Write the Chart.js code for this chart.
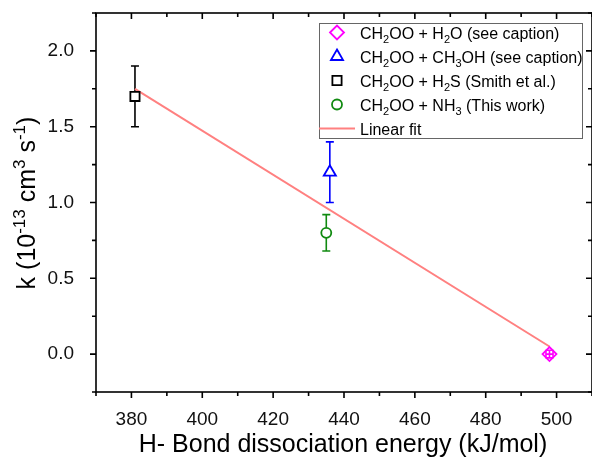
<!DOCTYPE html>
<html>
<head>
<meta charset="utf-8">
<script src="https://cdn.jsdelivr.net/npm/chart.js@4.4.0/dist/chart.umd.min.js"></script>
<style>
  html, body { margin: 0; padding: 0; background: #fff; }
</style>
</head>
<body>
<canvas id="kChart" width="592" height="457"></canvas>
<script>
// data
const seriesNames = ['CH_2OO + H_2O (see caption)', 'CH_2OO + CH_3OH (see caption)', 'CH_2OO + H_2S (Smith et al.)', 'CH_2OO + NH_3 (This work)'];
const bondEnergy = [498, 436, 381, 435];      // kJ/mol
const rateK = [0.0, 1.2, 1.7, 0.8];           // 1e-13 cm3 s-1
const rateErr = [0.025, 0.2, 0.2, 0.12];
const energyErr = [1, 0, 0, 0];
const fitName = 'Linear fit';
const fitX = [381, 498];
const fitY = [1.75, 0.05];
const xTicks = [380, 400, 420, 440, 460, 480, 500];
const xMinorTicks = [370, 390, 410, 430, 450, 470, 490, 510];
const yTicks = [0.0, 0.5, 1.0, 1.5, 2.0];
const yMinorTicks = [-0.25, 0.25, 0.75, 1.25, 1.75, 2.25];

const FONT = '"Liberation Sans", Arial, sans-serif';
const markerColors = ['#ff00ff', '#0000ff', '#000000', '#108a10'];
const markerStyles = ['rectRot', 'triangle', 'rect', 'circle'];
const markerRadius = [7, 7, 6.5, 5];

// split "CH_2OO" / "10^{-13}" into normal, sub and sup pieces
function richParts(str) {
    const parts = [];
    let buf = '', i = 0;
    while (i < str.length) {
        const c = str[i];
        if (c === '_' || c === '^') {
            if (buf) { parts.push({ t: buf, k: 0 }); buf = ''; }
            let t;
            if (str[i + 1] === '{') {
                const j = str.indexOf('}', i);
                t = str.slice(i + 2, j);
                i = j + 1;
            } else {
                t = str[i + 1];
                i += 2;
            }
            parts.push({ t: t, k: c === '_' ? -1 : 1 });
        } else {
            buf += c;
            i++;
        }
    }
    if (buf) parts.push({ t: buf, k: 0 });
    return parts;
}

function drawRich(ctx, str, x, y, size, align, color) {
    const parts = richParts(str);
    const small = Math.round(size * 0.66);
    let w = 0;
    parts.forEach(p => {
        ctx.font = (p.k ? small : size) + 'px ' + FONT;
        p.w = ctx.measureText(p.t).width;
        w += p.w;
    });
    let cx = align === 'center' ? x - w / 2 : x;
    ctx.textAlign = 'left';
    ctx.textBaseline = 'alphabetic';
    ctx.fillStyle = color || '#000';
    parts.forEach(p => {
        ctx.font = (p.k ? small : size) + 'px ' + FONT;
        const dy = p.k === -1 ? size * 0.28 : (p.k === 1 ? -size * 0.42 : 0);
        ctx.fillText(p.t, cx, y + dy);
        cx += p.w;
    });
}

// error bars, drawn from the data through the scales
function drawErrorBars(chart, inside) {
    const ctx = chart.ctx;
    const xs = chart.scales.x, ys = chart.scales.y;
    const cap = 4;
    ctx.save();
    ctx.lineWidth = 1.6;
    chart.data.datasets.forEach(ds => {
        if (!ds.errY && !ds.errX) return;
        const pt = ds.data[0];
        const px = xs.getPixelForValue(pt.x), py = ys.getPixelForValue(pt.y);
        ctx.strokeStyle = ds.borderColor;
        if (ds.errY) {
            const top = ys.getPixelForValue(pt.y + ds.errY);
            const bot = ys.getPixelForValue(pt.y - ds.errY);
            if ((py - top > ds.pointRadius) !== inside) {
                ctx.beginPath();
                ctx.moveTo(px, top); ctx.lineTo(px, bot);
                ctx.moveTo(px - cap, top); ctx.lineTo(px + cap, top);
                ctx.moveTo(px - cap, bot); ctx.lineTo(px + cap, bot);
                ctx.stroke();
            }
        }
        if (ds.errX) {
            const l = xs.getPixelForValue(pt.x - ds.errX);
            const r = xs.getPixelForValue(pt.x + ds.errX);
            if ((r - px > ds.pointRadius) !== inside) {
                ctx.beginPath();
                ctx.moveTo(l, py); ctx.lineTo(r, py);
                ctx.moveTo(l, py - cap); ctx.lineTo(l, py + cap);
                ctx.moveTo(r, py - cap); ctx.lineTo(r, py + cap);
                ctx.stroke();
            }
        }
    });
    ctx.restore();
}

const errorBarPlugin = {
    id: 'errorBars',
    beforeDatasetsDraw(chart) { drawErrorBars(chart, false); },
    afterDatasetsDraw(chart) { drawErrorBars(chart, true); }
};

// frame with ticks: outward on left/bottom, inward on top/right
const framePlugin = {
    id: 'frame',
    afterDraw(chart) {
        const ctx = chart.ctx;
        const a = chart.chartArea;
        const xs = chart.scales.x, ys = chart.scales.y;
        const major = 6, minor = 4;
        ctx.save();
        ctx.strokeStyle = '#000';
        ctx.lineWidth = 1.6;
        ctx.strokeRect(a.left, a.top, a.right - a.left, a.bottom - a.top);
        ctx.beginPath();
        const xt = (v, len) => {
            const p = xs.getPixelForValue(v);
            ctx.moveTo(p, a.bottom); ctx.lineTo(p, a.bottom + len);
            ctx.moveTo(p, a.top); ctx.lineTo(p, a.top + len);
        };
        const yt = (v, len) => {
            const p = ys.getPixelForValue(v);
            ctx.moveTo(a.left, p); ctx.lineTo(a.left - len, p);
            ctx.moveTo(a.right, p); ctx.lineTo(a.right - len, p);
        };
        xTicks.forEach(v => xt(v, major));
        xMinorTicks.forEach(v => xt(v, minor));
        yTicks.forEach(v => yt(v, major));
        yMinorTicks.forEach(v => yt(v, minor));
        ctx.stroke();

        // axis titles
        drawRich(ctx, 'H- Bond dissociation energy (kJ/mol)', 343, 452, 25, 'center');
        ctx.translate(28, 203);
        ctx.rotate(-Math.PI / 2);
        drawRich(ctx, 'k (10^{-13} cm^3 s^{-1})', 0, 7, 25, 'center');
        ctx.restore();
    }
};

// legend box with sub/superscripts
const legendPlugin = {
    id: 'richLegend',
    afterDraw(chart) {
        const ctx = chart.ctx;
        const box = { x: 319, y: 23, w: 263, h: 115 };
        const rowY = 32.5, rowStep = 24;
        ctx.save();
        ctx.fillStyle = '#fff';
        ctx.fillRect(box.x, box.y, box.w, box.h);
        ctx.strokeStyle = '#666';
        ctx.lineWidth = 1;
        ctx.strokeRect(box.x + 0.5, box.y + 0.5, box.w, box.h);
        chart.data.datasets.forEach((ds, i) => {
            const y = rowY + i * rowStep;
            if (ds.showLine) {
                ctx.strokeStyle = ds.borderColor;
                ctx.lineWidth = ds.borderWidth;
                ctx.beginPath();
                ctx.moveTo(box.x, y); ctx.lineTo(box.x + 36, y);
                ctx.stroke();
            } else {
                ctx.strokeStyle = ds.borderColor;
                ctx.fillStyle = '#fff';
                ctx.lineWidth = ds.borderWidth;
                Chart.helpers.drawPoint(ctx, { pointStyle: ds.pointStyle, radius: ds.pointRadius, rotation: 0, borderWidth: ds.borderWidth }, 337, y);
            }
            drawRich(ctx, ds.label, 360, y + 6, 16, 'left', '#000');
        });
        ctx.restore();
    }
};

const pointSets = seriesNames.map((name, i) => ({
    label: name,
    data: [{ x: bondEnergy[i], y: rateK[i] }],
    errY: rateErr[i],
    errX: energyErr[i],
    pointStyle: markerStyles[i],
    pointRadius: markerRadius[i],
    pointHoverRadius: markerRadius[i],
    borderColor: markerColors[i],
    backgroundColor: '#fff',
    pointBackgroundColor: '#fff',
    borderWidth: 1.8,
    showLine: false,
    order: 1
}));

const fitSet = {
    label: fitName,
    data: fitX.map((x, i) => ({ x: x, y: fitY[i] })),
    showLine: true,
    borderColor: '#ff8080',
    borderWidth: 2,
    pointRadius: 0,
    order: 10
};

// drop Chart.js's own label overhang padding so the plot box sits where the figure has it
function noPad(s) {
    s.paddingLeft = 0; s.paddingRight = 0; s.paddingTop = 0; s.paddingBottom = 0;
}

new Chart(document.getElementById('kChart').getContext('2d'), {
    type: 'scatter',
    data: { datasets: pointSets.concat([fitSet]) },
    options: {
        responsive: false,
        animation: false,
        devicePixelRatio: 1,
        layout: { autoPadding: false, padding: { top: 13, right: -1, left: 0, bottom: 0 } },
        plugins: { legend: { display: false }, tooltip: { enabled: false } },
        scales: {
            x: {
                type: 'linear', min: 370, max: 510,
                afterBuildTicks: s => { s.ticks = xTicks.map(v => ({ value: v })); },
                afterFit: s => { s.height = 65; noPad(s); },
                grid: { display: false },
                border: { display: false },
                ticks: { font: { size: 19, family: FONT }, color: '#111', padding: 8, maxRotation: 0, autoSkip: false, callback: v => String(v) }
            },
            y: {
                type: 'linear', min: -0.25, max: 2.25,
                afterBuildTicks: s => { s.ticks = yTicks.map(v => ({ value: v })); },
                afterFit: s => { s.width = 96; noPad(s); },
                grid: { display: false },
                border: { display: false },
                ticks: { font: { size: 19, family: FONT }, color: '#111', padding: 14, autoSkip: false, callback: v => v.toFixed(1) }
            }
        }
    },
    plugins: [errorBarPlugin, framePlugin, legendPlugin]
});
</script>
</body>
</html>
